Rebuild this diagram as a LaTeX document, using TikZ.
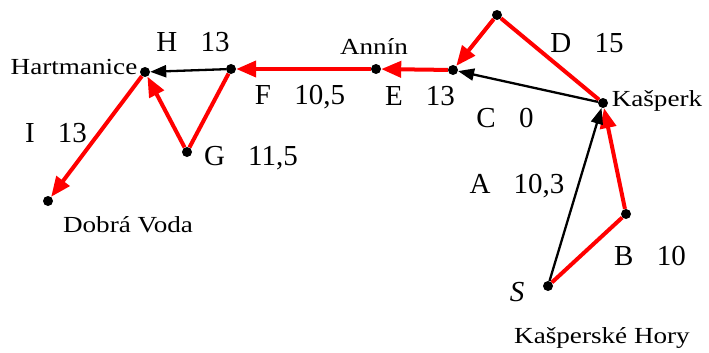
\documentclass[tikz,border=0pt]{standalone}
\usepackage{fontspec}
\setmainfont{Liberation Serif}
\newfontfamily\smallf[FakeStretch=1.18]{Liberation Serif}
\usetikzlibrary{arrows.meta}
\tikzset{
  pt/.style={circle,fill=black,inner sep=0pt,minimum size=10pt},
  redl/.style={draw=red,line width=4pt},
  redarr/.style={redl,-{Triangle[length=20pt,width=16pt]}},
  blkarr/.style={draw=black,line width=2.3pt,-{Triangle[length=16pt,width=12pt]}},
  big/.style={font=\fontsize{29}{32}\selectfont,inner sep=0pt},
  small/.style={font=\smallf\fontsize{23}{26}\selectfont,inner sep=0pt}
}
\newcommand{\gp}{\hspace{0.8em}}
\begin{document}
\begin{tikzpicture}[x=1pt,y=-1pt]
\useasboundingbox (0,0) rectangle (709,353);
\node[pt] (S) at (548,286) {};
\node[pt] (B) at (626,214) {};
\node[pt] (K) at (603,103) {};
\node[pt] (D) at (497,15) {};
\node[pt] (E) at (453,70) {};
\node[pt] (An) at (376,69) {};
\node[pt] (F) at (231,69) {};
\node[pt] (H) at (145,72) {};
\node[pt] (G) at (187,152) {};
\node[pt] (DV) at (48,201) {};
% connectors
\draw[redl] (S) -- (B);
\draw[redarr] (B) -- (K);
\draw[blkarr] (S) -- (K);
\draw[redl] (K) -- (D);
\draw[redarr] (D) -- (E);
\draw[blkarr] (K) -- (E);
\draw[redarr] (E) -- (An);
\draw[redarr] (An) -- (F);
\draw[blkarr] (F) -- (H);
\draw[redl] (F) -- (G);
\draw[redarr] (G) -- (H);
\draw[redarr] (H) -- (DV);
% labels
\node[big] (lH) at (193,42) {H\gp 13};
\node[small] (lHart) at (74,67) {Hartmanice};
\node[small] (lAn) at (374,47) {Annín};
\node[big] (lF) at (300,97) {F\gp 10,5};
\node[big] (lE) at (420,96) {E\gp 13};
\node[big] (lD) at (587,43) {D\gp 15};
\node[small] (lK) at (657,101) {Kašperk};
\node[big] (lC) at (505,118) {C\gp 0};
\node[big] (lA) at (517,186) {A\gp 10,3};
\node[big] (lB) at (650,256) {B\gp 10};
\node[big] (lS) at (517,292) {\itshape S};
\node[small] (lKH) at (602,338) {Kašperské Hory};
\node[big] (lI) at (56,133) {I\gp 13};
\node[big] (lG) at (251,158) {G\gp 11,5};
\node[small] (lDV) at (128,225) {Dobrá Voda};
\end{tikzpicture}
\end{document}
